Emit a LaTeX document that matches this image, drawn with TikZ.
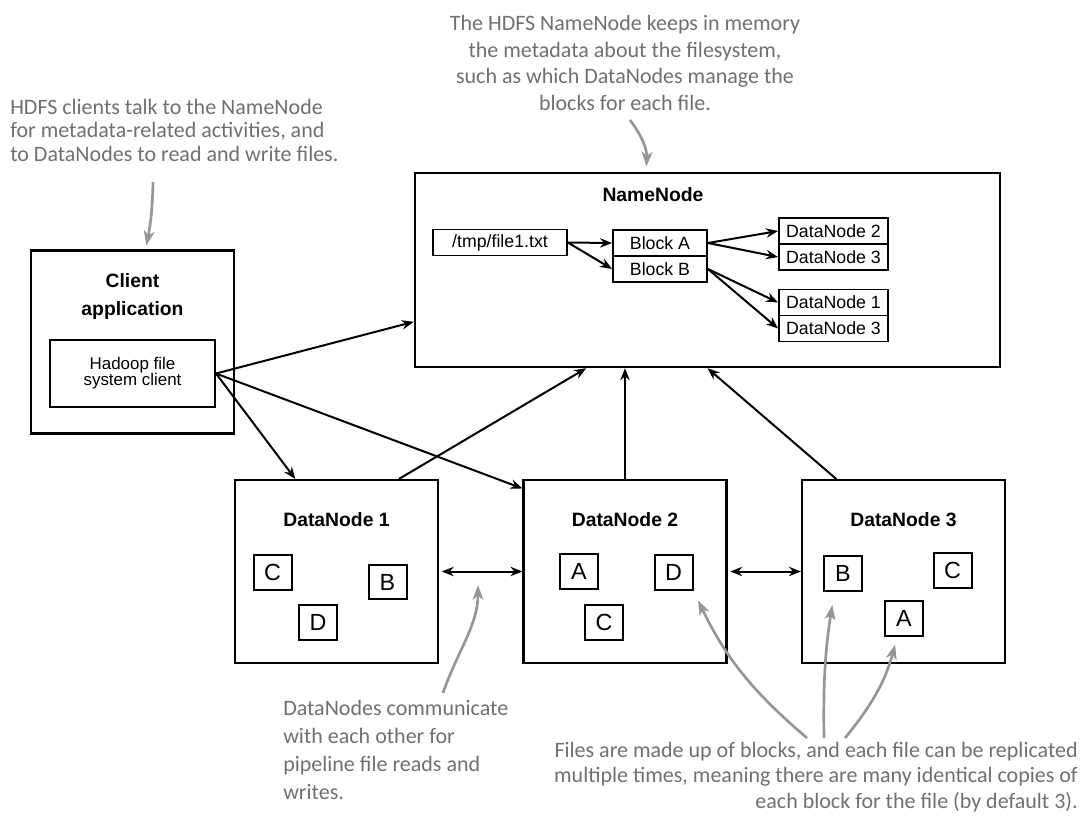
\documentclass[tikz,border=0pt]{standalone}
\usepackage{fontspec}
\setmainfont{Liberation Sans}
\newfontfamily\handfont{Carlito}
\usetikzlibrary{arrows.meta,positioning}
\definecolor{notegray}{RGB}{112,112,112}
\definecolor{pointgray}{RGB}{150,150,150}

\begin{document}
\begin{tikzpicture}[x=0.75pt, y=-0.75pt]
	\tikzstyle{server}  = [draw, line width=1.8pt, minimum width=152pt, minimum height=137pt, inner sep=0pt]
	\tikzstyle{title}   = [font=\fontsize{14.5}{21}\selectfont\bfseries, align=center]
	\tikzstyle{entry}   = [draw, line width=1.4pt, minimum height=19.5pt, inner sep=0pt, font=\fontsize{13.3}{13}\selectfont]
	\tikzstyle{blk}     = [draw, line width=1.5pt, minimum width=28.5pt, minimum height=26pt, inner sep=0pt, font=\fontsize{17.5}{17.5}\selectfont]
	\tikzstyle{link}    = [line width=1.5pt, -{Stealth[length=9pt, width=7pt]}]
	\tikzstyle{note}    = [text=notegray, font=\handfont\fontsize{16.5}{17.6}\selectfont, inner sep=0pt]
	\tikzstyle{pointer} = [draw=pointgray, line width=2pt, -{Stealth[length=11pt, width=8pt, inset=3pt]}]

	\useasboundingbox (0,0) rectangle (1083,826);

	% client side
	\node[server] (client) at (132.5,342) {};
	\node[title] (clienttitle) at (132.5,296) {Client\\application};
	\node[draw, line width=1.5pt, minimum width=123.75pt, minimum height=50.25pt, align=center,
		font=\fontsize{12.7}{12}\selectfont] (hdfsclient) at (132.5,373.5) {Hadoop file\\system client};

	% namenode and its metadata
	\node[draw, line width=1.8pt, minimum width=438.75pt, minimum height=145.5pt] (namenode) at (707.5,270) {};
	\node[title] (nametitle) at (653,195) {NameNode};
	\node[entry, minimum width=100.5pt] (file) at (500,242.5) {/tmp/file1.txt};
	\node[entry, minimum width=70.5pt] (blocka) at (660,243) {Block A};
	\node[entry, minimum width=70.5pt, below=-1.4pt of blocka] (blockb) {Block B};
	\node[entry, minimum width=81.75pt] (mapa2) at (833.5,231) {DataNode 2};
	\node[entry, minimum width=81.75pt, below=-1.4pt of mapa2] (mapa3) {DataNode 3};
	\node[entry, minimum width=81.75pt] (mapb1) at (833.5,302.5) {DataNode 1};
	\node[entry, minimum width=81.75pt, below=-1.4pt of mapb1] (mapb3) {DataNode 3};

	\foreach \from/\to in {file/blocka, file/blockb, blocka/mapa2, blocka/mapa3, blockb/mapb1, blockb/mapb3}
		\draw[link] (\from.east) -- (\to.west);

	% datanodes
	\foreach \name/\num/\x in {dn1/1/336.5, dn2/2/625, dn3/3/903.5} {
		\node[server] (\name) at (\x,571.5) {};
		\node[title] (\name title) at (\x,520) {DataNode \num};
	}

	\foreach \name/\txt/\x/\y in {dn1c/C/272.5/572.5, dn1b/B/387.5/582, dn1d/D/318/622.5,
		dn2a/A/579/571.5, dn2d/D/673.5/572.5, dn2c/C/604/622.5,
		dn3b/B/843/573.5, dn3c/C/952.5/570.5, dn3a/A/904/618.5}
		\node[blk] (\name) at (\x,\y) {\txt};

	% connectors
	\draw[link] (hdfsclient.east) -- (namenode.190);
	\draw[link] (hdfsclient.east) -- (dn1.114);
	\draw[link] (hdfsclient.east) -- (dn2.141);
	\draw[link] (dn1.56) -- (namenode.219);
	\draw[link] (dn2.north) -- (dn2.north |- namenode.south);
	\draw[link] (dn3.126) -- (namenode.south);
	\draw[link, {Stealth[length=9pt, width=7pt]}-{Stealth[length=9pt, width=7pt]}, shorten <=2pt] (dn1.east) -- (dn2.west);
	\draw[link, {Stealth[length=9pt, width=7pt]}-{Stealth[length=9pt, width=7pt]}, shorten <=2pt] (dn2.east) -- (dn3.west);

	% annotations
	\node[note, anchor=west, align=left] (clientnote) at (10,130)
		{HDFS clients talk to the NameNode\\for metadata-related activities, and\\to DataNodes to read and write files.};
	\node[note, align=center, font=\handfont\fontsize{16.5}{20}\selectfont] (namenote) at (625,63)
		{The HDFS NameNode keeps in memory\\the metadata about the filesystem,\\such as which DataNodes manage the\\blocks for each file.};
	\node[note, anchor=north west, align=left, font=\handfont\fontsize{16.5}{21}\selectfont] (pipenote) at (283,700)
		{DataNodes communicate\\with each other for\\pipeline file reads and\\writes.};
	\node[note, anchor=north east, align=right, font=\handfont\fontsize{16.5}{19}\selectfont] (replnote) at (1078,742)
		{Files are made up of blocks, and each file can be replicated\\multiple times, meaning there are many identical copies of\\each block for the file (by default 3).};

	\coordinate (clienttail) at (153,182);
	\coordinate (nametail) at (630,120);
	\coordinate (pipetail) at (443,693);
	\coordinate (pipetip) at (478,585);
	\coordinate (repltaila) at (807,738);
	\coordinate (repltailb) at (824,738);
	\coordinate (repltailc) at (845,738);

	\draw[pointer, shorten >=3pt] (clienttail) to[bend left=5] (client.82);
	\draw[pointer, shorten >=4pt] (nametail) to[bend left=20] (namenode.122);
	\draw[pointer] (pipetail) .. controls (458,650) and (478,625) .. (pipetip);
	\draw[pointer, shorten >=8pt] (repltaila) to[bend left=12] (dn2d.south east);
	\draw[pointer, shorten >=10pt] (repltailb) to[bend left=5] (dn3b.245);
	\draw[pointer, shorten >=6pt] (repltailc) to[bend right=12] (dn3a.250);
\end{tikzpicture}
\end{document}
